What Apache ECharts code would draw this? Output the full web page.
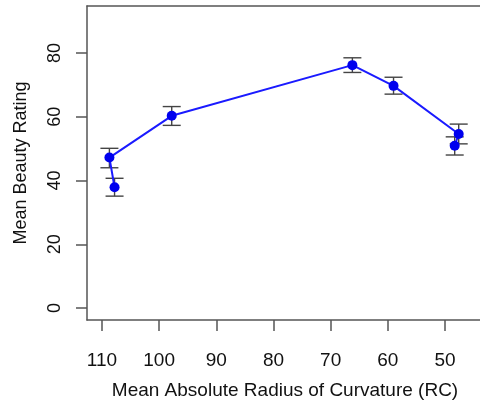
<!DOCTYPE html>
<html><head><meta charset="utf-8">
<script src="https://cdn.jsdelivr.net/npm/echarts@6/dist/echarts.min.js"></script>
<style>html,body{margin:0;padding:0;background:#fff}#c{width:480px;height:402px}</style>
</head><body><div id="c"></div>
<script>
// data (line order as drawn)
const rc    = [107.8, 108.7, 97.8, 66.2, 59.0, 47.6, 48.3];
const mean  = [37.9, 47.2, 60.3, 76.2, 69.7, 54.6, 50.9];
const lower = [35.1, 44.0, 57.3, 73.9, 67.1, 51.5, 48.0];
const upper = [40.7, 50.1, 63.2, 78.5, 72.4, 57.7, 53.7];
const xTicks = [110, 100, 90, 80, 70, 60, 50];
const yTicks = [0, 20, 40, 60, 80];

const pts = rc.map((x, i) => [x, mean[i]]);
const errs = rc.map((x, i) => [x, lower[i], upper[i]]);

const boxColor = '#555';
const txt = '#111';
const font = 'Liberation Sans, Arial, sans-serif';

const chart = echarts.init(document.getElementById('c'), null, {renderer: 'canvas'});
chart.setOption({
  animation: false,
  backgroundColor: '#fff',
  grid: {left: 87, right: -3, top: 6, bottom: 82, containLabel: false, outerBoundsMode: 'none'},
  xAxis: [{
    type: 'value', position: 'bottom', inverse: true, min: 43.35, max: 112.62,
    axisLine: {show: true, onZero: false, lineStyle: {color: boxColor, width: 1.5}},
    axisTick: {show: true, length: 11, customValues: xTicks, lineStyle: {color: boxColor, width: 1.5}},
    axisLabel: {customValues: xTicks, margin: 31, fontSize: 19, color: txt, fontFamily: font},
    splitLine: {show: false},
    name: 'Mean Absolute Radius of Curvature (RC)', nameLocation: 'middle', nameGap: 61,
    nameTextStyle: {fontSize: 19, color: txt, fontFamily: font}
  }, {
    type: 'value', position: 'top', inverse: true, min: 43.35, max: 112.62,
    axisLine: {show: true, onZero: false, lineStyle: {color: boxColor, width: 1.5}},
    axisTick: {show: false}, axisLabel: {show: false}, splitLine: {show: false}
  }],
  yAxis: {
    type: 'value', min: -3.76, max: 94.75,
    axisLine: {show: true, onZero: false, lineStyle: {color: boxColor, width: 1.5}},
    axisTick: {show: true, length: 11, customValues: yTicks, lineStyle: {color: boxColor, width: 1.5}},
    axisLabel: {customValues: yTicks, rotate: 90, margin: 23, fontSize: 18, color: txt, fontFamily: font, align: 'center', verticalAlign: 'bottom'},
    splitLine: {show: false},
    name: 'Mean Beauty Rating', nameLocation: 'middle', nameGap: 57, nameRotate: 90,
    nameTextStyle: {fontSize: 18, color: txt, fontFamily: font}
  },
  series: [{
    type: 'custom',
    data: errs,
    z: 2,
    renderItem: function (params, api) {
      const x = api.value(0);
      const lo = api.coord([x, api.value(1)]);
      const hi = api.coord([x, api.value(2)]);
      const hw = 9;
      const style = {stroke: '#444', lineWidth: 1.4, fill: null};
      return {type: 'group', children: [
        {type: 'line', shape: {x1: lo[0], y1: lo[1], x2: hi[0], y2: hi[1]}, style: style},
        {type: 'line', shape: {x1: lo[0] - hw, y1: lo[1], x2: lo[0] + hw, y2: lo[1]}, style: style},
        {type: 'line', shape: {x1: hi[0] - hw, y1: hi[1], x2: hi[0] + hw, y2: hi[1]}, style: style}
      ]};
    }
  }, {
    type: 'line',
    data: pts,
    z: 3,
    symbol: 'circle', symbolSize: 10,
    itemStyle: {color: '#0000ee'},
    lineStyle: {color: '#1a1aff', width: 2}
  }]
});
</script></body></html>
